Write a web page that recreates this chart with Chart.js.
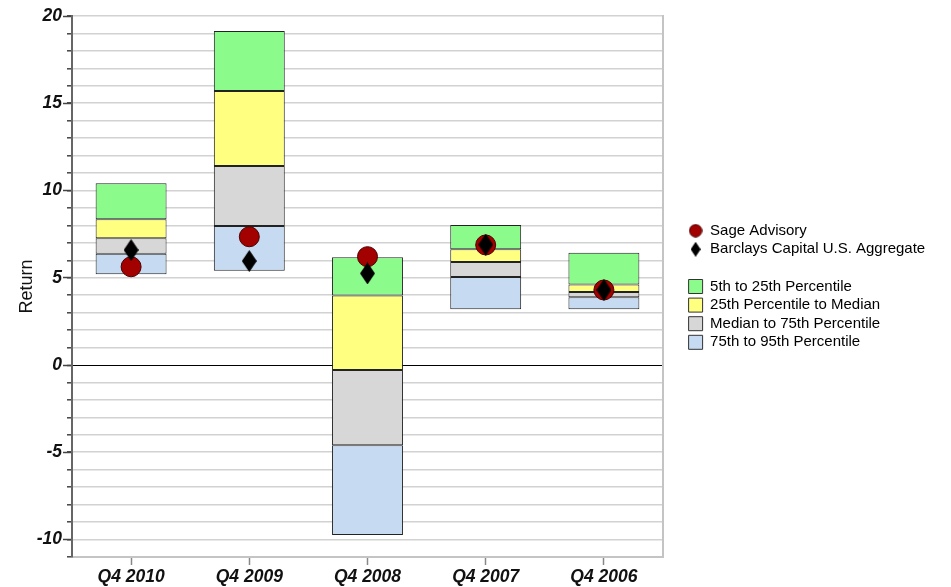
<!DOCTYPE html>
<html><head><meta charset="utf-8">
<script src="https://cdn.jsdelivr.net/npm/chart.js@4.4.0/dist/chart.umd.min.js"></script>
<style>html,body{margin:0;padding:0;background:#fff;}#wrap{position:relative;width:951px;height:587px;}</style>
</head><body><div id="wrap"><canvas id="c" width="951" height="587"></canvas></div>
<script>
const categories = ['Q4 2010', 'Q4 2009', 'Q4 2008', 'Q4 2007', 'Q4 2006'];
const p5  = [10.41, 19.14, 6.17, 8.02, 6.44];
const p25 = [8.35, 15.70, 3.99, 6.63, 4.62];
const p50 = [7.26, 11.40, -0.29, 5.90, 4.18];
const p75 = [6.38, 7.97, -4.60, 5.04, 3.88];
const p95 = [5.20, 5.40, -9.74, 3.19, 3.19];
const sage = [5.63, 7.35, 6.21, 6.88, 4.30];
const barclays = [6.59, 5.96, 5.25, 6.90, 4.30];
const yMin = -11, yMax = 20;
const yTickLabels = [-10, -5, 0, 5, 10, 15, 20];
const seriesNames = ['Sage Advisory', 'Barclays Capital U.S. Aggregate'];
const bandNames = ['5th to 25th Percentile', '25th Percentile to Median', 'Median to 75th Percentile', '75th to 95th Percentile'];
const bandColors = ['#8bfb8b', '#ffff80', '#d7d7d7', '#c6daf1'];

const FONT = "'Liberation Sans', Arial, Helvetica, sans-serif";
const LEGEND_W = 249;

function diamondImg(w, h) {
  const c = document.createElement('canvas'); c.width = w; c.height = h;
  const g = c.getContext('2d'); g.fillStyle = '#000';
  g.beginPath(); g.moveTo(w / 2, 0); g.lineTo(w, h / 2); g.lineTo(w / 2, h); g.lineTo(0, h / 2); g.closePath(); g.fill();
  return c;
}
function circleImg(d) {
  const c = document.createElement('canvas'); c.width = d; c.height = d;
  const g = c.getContext('2d'); g.fillStyle = '#a30000'; g.strokeStyle = '#4d0000'; g.lineWidth = 1;
  g.beginPath(); g.arc(d / 2, d / 2, d / 2 - 0.8, 0, Math.PI * 2); g.fill(); g.stroke();
  return c;
}
const diamondChart = diamondImg(15, 22);
const diamondLegend = diamondImg(10, 15);
const circleLegend = circleImg(14);

const bands = [[p25, p5], [p50, p25], [p75, p50], [p95, p75]];
const barSets = bands.map((b, i) => ({
  type: 'bar', label: bandNames[i], order: 2,
  data: categories.map((_, k) => [b[0][k], b[1][k]]),
  backgroundColor: bandColors[i], borderColor: '#222', borderWidth: 1, borderSkipped: false,
  categoryPercentage: 1, barPercentage: 0.6, yAxisID: 'y'
}));

const legendWidthPlugin = {
  id: 'legendWidth',
  afterInit(chart) {
    const lg = chart.legend;
    if (!lg) return;
    const origFit = lg.fit;
    lg.fit = function () { origFit.call(this); this.width = LEGEND_W; };
  }
};

new Chart(document.getElementById('c'), {
  type: 'bar',
  plugins: [legendWidthPlugin],
  data: {
    labels: categories,
    datasets: [
      { type: 'line', label: seriesNames[1], data: barclays, showLine: false, order: 0, yAxisID: 'y',
        pointStyle: diamondChart, pointRadius: 10 },
      { type: 'line', label: seriesNames[0], data: sage, showLine: false, order: 1, yAxisID: 'y',
        pointStyle: 'circle', pointRadius: 10, pointBackgroundColor: '#a30000', pointBorderColor: '#4d0000', pointBorderWidth: 1 },
      ...barSets
    ]
  },
  options: {
    responsive: false, animation: false, devicePixelRatio: 1, events: [],
    layout: { padding: { top: 16, right: 17, bottom: 0, left: 0 } },
    plugins: {
      tooltip: { enabled: false },
      legend: {
        position: 'right', align: 'center', fullSize: false,
        labels: {
          usePointStyle: true, boxWidth: 14, boxHeight: 14, padding: 3.6, color: '#111',
          font: { family: FONT, size: 15 },
          generateLabels: () => [
            { text: seriesNames[0], pointStyle: circleLegend, fillStyle: '#a30000', strokeStyle: '#4d0000', lineWidth: 0, hidden: false },
            { text: seriesNames[1], pointStyle: diamondLegend, fillStyle: '#000', strokeStyle: '#000', lineWidth: 0, hidden: false },
            { text: '', pointStyle: 'rect', fillStyle: 'rgba(0,0,0,0)', strokeStyle: 'rgba(0,0,0,0)', lineWidth: 0, hidden: false },
            ...bandNames.map((n, i) => ({ text: n, pointStyle: 'rect', fillStyle: bandColors[i], strokeStyle: '#333', lineWidth: 1, hidden: false }))
          ]
        }
      }
    },
    scales: {
      x: {
        type: 'category', stacked: true, offset: true,
        grid: { display: true, drawOnChartArea: false, drawTicks: true, offset: false, tickLength: 8, tickColor: '#888', tickWidth: 1.5 },
        border: { display: true, color: '#c4c4c4', width: 2 },
        ticks: { font: { family: FONT, size: 17.5, weight: 'bold', style: 'italic' }, color: '#111', padding: 2, maxRotation: 0 },
        afterFit: s => { s.height = 30; }
      },
      y: {
        type: 'linear', position: 'left', weight: 0, min: yMin, max: yMax, stacked: false,
        ticks: { stepSize: 1, display: false },
        grid: { color: c => (c.tick && c.tick.value === 0) ? '#000' : '#d2d2d2',
          lineWidth: c => (c.tick && c.tick.value === 0) ? 1 : 1.6, tickLength: 5, tickColor: '#444', tickWidth: 1.5 },
        border: { display: true, color: '#666', width: 2 },
        afterFit: s => { s.width = 0; }
      },
      yMaj: {
        type: 'linear', position: 'left', weight: 1, min: yMin, max: yMax,
        afterBuildTicks: s => { s.ticks = yTickLabels.map(v => ({ value: v })); },
        ticks: { padding: 1, color: '#111', font: { family: FONT, size: 17.5, weight: 'bold', style: 'italic' },
          callback: v => String(v) },
        grid: { drawOnChartArea: false, tickLength: 9, tickWidth: 1.5, tickColor: '#444' },
        border: { display: false },
        title: { display: true, text: 'Return', color: '#111', font: { family: FONT, size: 18 }, padding: { top: 16, bottom: 0 } },
        afterFit: s => { s.width = 72; }
      },
      yR: {
        type: 'linear', position: 'right', weight: 0, min: yMin, max: yMax,
        ticks: { display: false },
        grid: { drawOnChartArea: false, drawTicks: false },
        border: { display: true, color: '#c4c4c4', width: 2 },
        afterFit: s => { s.width = 22; }
      }
    }
  }
});
</script></body></html>
